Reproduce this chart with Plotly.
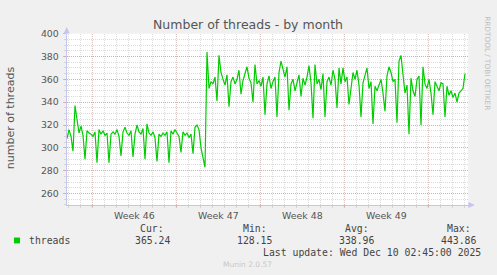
import plotly.graph_objects as go

# ---------------- data ----------------
STEP_HOURS = 4  # sampling interval of the monthly graph

threads = [
    # day 0 .. day 11 (before the jump)
    308, 316, 310, 297, 337, 326,
    313, 319, 311, 290, 315, 313,
    312, 310, 314, 287, 316, 312,
    315, 311, 313, 287, 312, 314,
    312, 316, 310, 293, 314, 318,
    313, 311, 315, 292, 312, 320,
    314, 312, 317, 290, 321, 313,
    311, 314, 309, 288, 312, 310,
    313, 311, 314, 287, 315, 312,
    316, 313, 310, 296, 314, 311,
    313, 309, 312, 295, 318, 320,
    316, 300, 292, 283, 384, 352,
    # after the jump
    358, 356, 362, 341, 381, 366,
    360, 355, 364, 336, 358, 362,
    356, 360, 368, 347, 359, 365,
    371, 361, 357, 340, 373, 356,
    359, 354, 362, 329, 356, 363,
    352, 358, 362, 327, 366, 376,
    368, 362, 371, 333, 356, 360,
    350, 358, 364, 345, 361, 355,
    362, 372, 357, 326, 373, 356,
    360, 351, 365, 327, 358, 362,
    355, 368, 360, 335, 370, 356,
    370, 358, 362, 338, 352, 366,
    360, 368, 355, 327, 357, 363,
    370, 352, 358, 321, 354, 350,
    356, 360, 348, 332, 363, 371,
    366, 358, 360, 322, 376, 381,
    364, 348, 355, 312, 361, 350,
    345, 360, 363, 320, 371, 356,
    352, 360, 348, 329, 358, 354,
    350, 357, 356, 327, 354, 346,
    350, 344, 348, 340, 348, 350,
    352, 365,
]
hours = [i * STEP_HOURS for i in range(len(threads))]

week_labels = ["Week 46", "Week 47", "Week 48", "Week 49"]
y_tick_values = [260, 280, 300, 320, 340, 360, 380, 400]
legend_heads = ["Cur:", "Min:", "Avg:", "Max:"]
legend_values = ["365.24", "128.15", "338.96", "443.86"]
series_name = "threads"
title_text = "Number of threads - by month"
y_title = "number of threads"
last_update = "Last update: Wed Dec 10 02:45:00 2025"
footer = "Munin 2.0.57"
side_text = "RRDTOOL / TOBI OETIKER"

# ---------------- layout constants ----------------
W, H = 497, 275
X_RANGE = [-0.6, 802.6]
Y_RANGE = [250, 400]
FIRST_WEEK_LINE = 50.6      # hours
WEEK = 168
DAY = 24
DAY_OFFSET = 2.6

GREEN = "#00CC00"
MAJOR_GRID = "rgba(240,140,140,0.65)"
MINOR_GRID = "rgba(195,195,195,0.6)"
AXIS_COLOR = "#C4C4EC"
TEXT = "#555555"
LEG_TEXT = "#444444"


def px(x):
    return x / W


def py(y):
    return 1 - y / H


week_lines = []
v = FIRST_WEEK_LINE
while v < X_RANGE[1]:
    week_lines.append(v)
    v += WEEK
week_centers = [w + WEEK / 2 for w in week_lines[:len(week_labels)]]

fig = go.Figure()
fig.add_trace(go.Scatter(
    x=hours, y=threads, mode="lines",
    line=dict(color=GREEN, width=1.2),
    hoverinfo="skip", showlegend=False,
))

shapes = []
for wl in week_lines:
    shapes.append(dict(type="line", xref="x", yref="paper",
                       x0=wl, x1=wl, y0=py(203.4), y1=py(28.3),
                       line=dict(color=MAJOR_GRID, width=1, dash="1px,1px"),
                       layer="between"))
    shapes.append(dict(type="line", xref="x", yref="paper",
                       x0=wl, x1=wl, y0=py(203.4), y1=py(206),
                       line=dict(color=MAJOR_GRID, width=1)))

# axis arrows
shapes.append(dict(type="path", xref="paper", yref="paper",
                   path=f"M {px(63.7)} {py(28)} L {px(69.7)} {py(28)} L {px(66.7)} {py(21.5)} Z",
                   fillcolor=AXIS_COLOR, line=dict(width=0)))
shapes.append(dict(type="path", xref="paper", yref="paper",
                   path=f"M {px(468.3)} {py(200.4)} L {px(468.3)} {py(206.4)} L {px(474.8)} {py(203.4)} Z",
                   fillcolor=AXIS_COLOR, line=dict(width=0)))
# legend colour box
shapes.append(dict(type="rect", xref="paper", yref="paper",
                   x0=px(14), x1=px(20), y0=py(242.7), y1=py(236.7),
                   fillcolor=GREEN, line=dict(width=0)))

annotations = [
    dict(text=title_text, x=px(247.8), y=py(19), xref="paper", yref="paper",
         showarrow=False, xanchor="center", yanchor="middle",
         font=dict(family="DejaVu Sans", size=12.5, color=TEXT)),
    dict(text=y_title, x=px(10), y=py(114.7), xref="paper", yref="paper",
         showarrow=False, textangle=-90, xanchor="center", yanchor="middle",
         font=dict(family="DejaVu Sans", size=11, color=TEXT)),
    dict(text=side_text, x=px(488), y=py(58.5), xref="paper", yref="paper",
         showarrow=False, textangle=90, xanchor="center", yanchor="middle",
         font=dict(family="DejaVu Sans", size=7.3, color="#BEBEBE")),
    dict(text=series_name, x=px(26.7), y=py(239.7), xref="paper", yref="paper",
         showarrow=False, xanchor="left", yanchor="middle",
         font=dict(family="DejaVu Sans Mono", size=9.8, color=LEG_TEXT)),
    dict(text=last_update, x=px(482.5), y=py(251.5), xref="paper", yref="paper",
         showarrow=False, xanchor="right", yanchor="middle",
         font=dict(family="DejaVu Sans Mono", size=9.8, color=LEG_TEXT)),
    dict(text=footer, x=px(247.8), y=py(264.5), xref="paper", yref="paper",
         showarrow=False, xanchor="center", yanchor="middle",
         font=dict(family="DejaVu Sans", size=7.5, color="#C8C8C8")),
]
col_centers = [152, 254.6, 356.8, 458.8]
for head, val, cx in zip(legend_heads, legend_values, col_centers):
    annotations.append(dict(text=head, x=px(cx), y=py(227.8), xref="paper", yref="paper",
                            showarrow=False, xanchor="center", yanchor="middle",
                            font=dict(family="DejaVu Sans Mono", size=9.8, color=LEG_TEXT)))
    annotations.append(dict(text=val, x=px(cx), y=py(239.7), xref="paper", yref="paper",
                            showarrow=False, xanchor="center", yanchor="middle",
                            font=dict(family="DejaVu Sans Mono", size=9.8, color=LEG_TEXT)))

fig.update_layout(
    width=W, height=H,
    margin=dict(l=0, r=0, t=0, b=0),
    paper_bgcolor="#F0F0F0",
    plot_bgcolor="#FFFFFF",
    showlegend=False,
    shapes=shapes,
    annotations=annotations,
    xaxis=dict(
        domain=[px(66.7), px(468.3)],
        range=X_RANGE, fixedrange=True,
        tickmode="array", tickvals=week_centers, ticktext=week_labels,
        ticks="", showgrid=False, zeroline=False,
        showline=True, linecolor=AXIS_COLOR, linewidth=1,
        tickfont=dict(family="DejaVu Sans", size=9.4, color=TEXT),
        ticklabelstandoff=2,
        minor=dict(tick0=DAY_OFFSET, dtick=DAY, showgrid=True,
                   gridcolor=MINOR_GRID, griddash="1px,1px", gridwidth=1,
                   ticks="outside", ticklen=2, tickcolor=MINOR_GRID),
    ),
    yaxis=dict(
        domain=[py(203.4), py(28.3)],
        range=Y_RANGE, fixedrange=True,
        tickmode="array", tickvals=y_tick_values,
        showgrid=True, gridcolor=MAJOR_GRID, griddash="1px,1px", gridwidth=1,
        zeroline=False,
        showline=True, linecolor=AXIS_COLOR, linewidth=1,
        ticks="outside", ticklen=3, tickcolor=MAJOR_GRID,
        tickfont=dict(family="DejaVu Sans", size=9.4, color=TEXT),
        ticklabelstandoff=2,
        minor=dict(tick0=250, dtick=5, showgrid=True,
                   gridcolor=MINOR_GRID, griddash="1px,1px", gridwidth=1,
                   ticks="outside", ticklen=2, tickcolor=MINOR_GRID),
    ),
)

fig.write_html("out.html")
